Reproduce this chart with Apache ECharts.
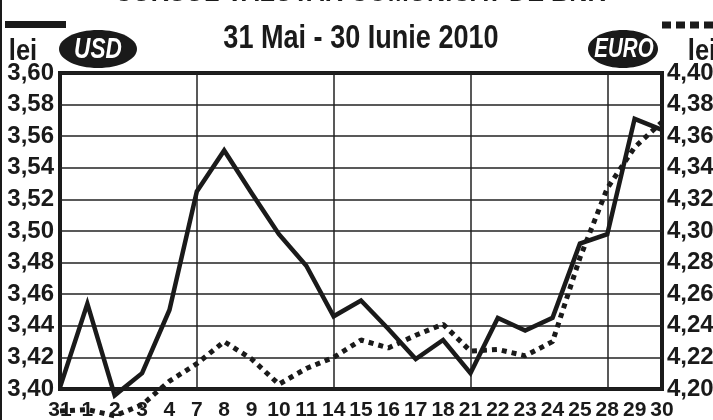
<!DOCTYPE html>
<html>
<head>
<meta charset="utf-8">
<script src="https://cdn.jsdelivr.net/npm/echarts@6/dist/echarts.min.js"></script>
<style>
html,body{margin:0;padding:0;background:#fff;}
#chart{width:713px;height:420px;}
</style>
</head>
<body>
<div id="chart"></div>
<script>
var categories = ['31','1','2','3','4','7','8','9','10','11','14','15','16','17','18','21','22','23','24','25','28','29','30'];
var usdValues = [3.401,3.454,3.396,3.410,3.450,3.525,3.551,3.524,3.498,3.478,3.446,3.456,3.438,3.419,3.431,3.410,3.445,3.437,3.445,3.492,3.498,3.571,3.564];
var euroValues = [4.186,4.187,4.183,4.190,4.205,4.216,4.230,4.219,4.203,4.213,4.220,4.231,4.226,4.234,4.241,4.224,4.225,4.221,4.230,4.283,4.327,4.353,4.369];
var usdTicks = {min:3.40, max:3.60, interval:0.02};
var euroTicks = {min:4.20, max:4.40, interval:0.02};
var weekStarts = ['7','14','21','28'];
var titleText = '31 Mai - 30 Iunie 2010';
var topTitle = 'CURSUL VALUTAR COMUNICAT DE BNR';

var FONT = '"Liberation Sans", Arial, sans-serif';
var chart = echarts.init(document.getElementById('chart'), null, {renderer:'canvas'});
function fmt(v){ return v.toFixed(2).replace('.', ','); }
var INK = '#1a1a1a';

var option = {
  backgroundColor:'#fff',
  animation:false,
  grid:{left:60, right:51, top:73, bottom:31, show:true, borderColor:INK, borderWidth:4, containLabel:false, outerBoundsMode:'none'},
  xAxis:{
    type:'category', data:categories, boundaryGap:false,
    axisLine:{show:false}, axisTick:{show:false},
    axisLabel:{interval:0, color:INK, fontFamily:FONT, fontWeight:'bold', fontSize:21, margin:11},
    splitLine:{show:true, interval:function(i, v){ return weekStarts.indexOf(v) >= 0; }, lineStyle:{color:'#222', width:1.5}}
  },
  yAxis:[
    {type:'value', min:usdTicks.min, max:usdTicks.max, interval:usdTicks.interval, position:'left',
     axisLine:{show:false}, axisTick:{show:false},
     axisLabel:{formatter:fmt, color:INK, fontFamily:FONT, fontWeight:'bold', fontSize:24, margin:6},
     splitLine:{show:true, lineStyle:{color:'#222', width:1.5}}},
    {type:'value', min:euroTicks.min, max:euroTicks.max, interval:euroTicks.interval, position:'right',
     axisLine:{show:false}, axisTick:{show:false},
     axisLabel:{formatter:fmt, color:INK, fontFamily:FONT, fontWeight:'bold', fontSize:24, margin:5},
     splitLine:{show:false}}
  ],
  series:[
    {name:'USD', type:'line', yAxisIndex:0, data:usdValues, clip:false, symbol:'none', z:3,
     lineStyle:{color:INK, width:4.5, join:'miter'}},
    {name:'EURO', type:'line', yAxisIndex:1, data:euroValues, clip:false, symbol:'none', z:4,
     lineStyle:{color:INK, width:5, type:[5,5], cap:'butt'}}
  ],
  graphic:[
    {type:'rect', shape:{x:0, y:0, width:2, height:420}, style:{fill:INK}},
    {type:'text', x:360, y:7, scaleX:0.9, style:{text:topTitle, fill:INK, font:'bold 28px ' + FONT, textAlign:'center', textVerticalAlign:'bottom'}},
    {type:'rect', shape:{x:5, y:21, width:61, height:7}, style:{fill:INK}},
    {type:'line', shape:{x1:662, y1:25, x2:713, y2:25}, style:{stroke:INK, lineWidth:7, lineDash:[9,5]}},
    {type:'text', x:23, y:52, scaleX:0.85, style:{text:'lei', fill:INK, font:'bold 30px ' + FONT, textAlign:'center', textVerticalAlign:'middle'}},
    {type:'ellipse', shape:{cx:98, cy:49, rx:39, ry:19}, style:{fill:INK}},
    {type:'text', x:98, y:50, scaleX:0.78, style:{text:'USD', fill:'#fff', font:'italic bold 29px ' + FONT, textAlign:'center', textVerticalAlign:'middle'}},
    {type:'text', x:361, y:39, scaleX:0.82, style:{text:titleText, fill:INK, font:'bold 33px ' + FONT, textAlign:'center', textVerticalAlign:'middle'}},
    {type:'ellipse', shape:{cx:623, cy:49, rx:35, ry:19}, style:{fill:INK}},
    {type:'text', x:624, y:50, scaleX:0.76, style:{text:'EURO', fill:'#fff', font:'italic bold 27px ' + FONT, textAlign:'center', textVerticalAlign:'middle'}},
    {type:'text', x:702, y:52, scaleX:0.85, style:{text:'lei', fill:INK, font:'bold 30px ' + FONT, textAlign:'center', textVerticalAlign:'middle'}}
  ]
};
chart.setOption(option);
</script>
</body>
</html>
